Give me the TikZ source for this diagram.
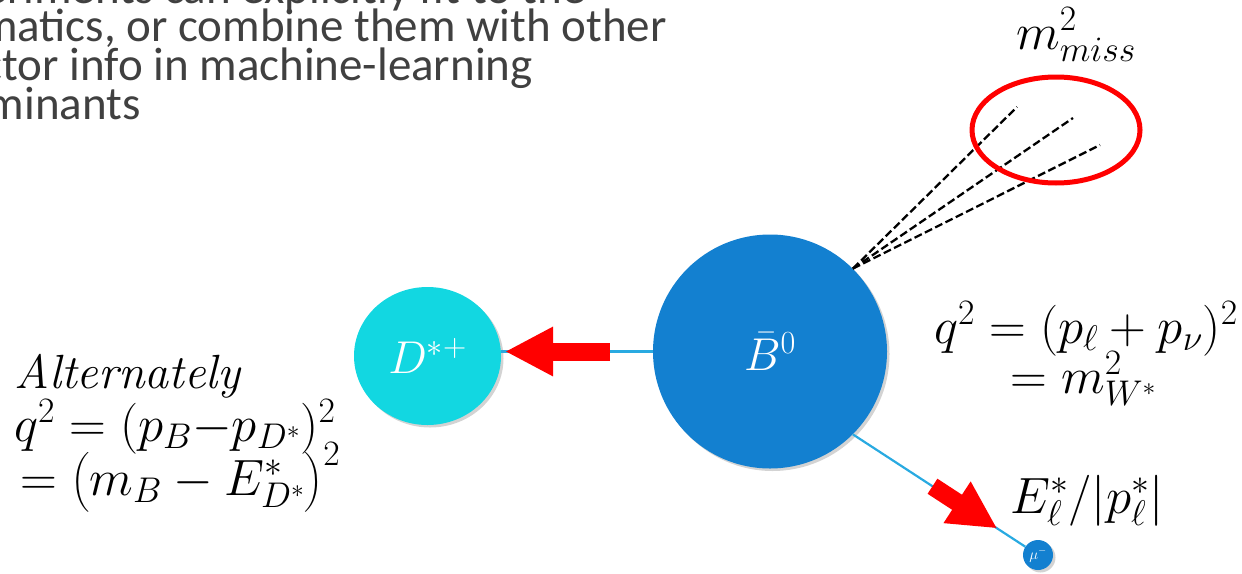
\documentclass[tikz,border=0pt]{standalone}
\usepackage{fix-cm}
\usepackage{amsmath}
\usepackage{fontspec}
\newfontfamily\calibri{Carlito}
\usetikzlibrary{arrows.meta,shadows,shapes.geometric,calc}
\definecolor{bblue}{RGB}{19,128,208}
\definecolor{dcyan}{RGB}{18,215,225}
\definecolor{lineblue}{RGB}{41,170,225}
\definecolor{txtgray}{RGB}{64,64,64}
\tikzset{
  particle/.style={circle, inner sep=0pt, text=white,
    drop shadow={shadow xshift=2.5pt, shadow yshift=-2.5pt, opacity=0.35}},
  conn/.style={draw=lineblue, line width=2.2pt},
  fatarrow/.style={draw=red, line width=18pt, -{Triangle[length=48pt,width=46pt]}},
  missing/.style={draw=black, line width=2.3pt, dash pattern=on 8pt off 3.5pt},
  bigmath/.style={font=\fontsize{51}{58}\selectfont, inner sep=0pt, text=black},
  slidetext/.style={font=\calibri\fontsize{47}{39}\selectfont, text=txtgray, inner sep=0pt, anchor=base east},
}
\begin{document}
\begin{tikzpicture}[x=1pt,y=-1pt]
\useasboundingbox (0,0) rectangle (1242,573);
\clip (0,0) rectangle (1242,573);

% slide text (cut off at the left / top)
\node[slidetext] (t1) at (586,3) {Experiments can explicitly fit to the};
\node[slidetext] (t2) at (667,41) {kinematics, or combine them with other};
\node[slidetext] (t3) at (533,80) {detector info in machine-learning};
\node[slidetext] (t4) at (141,119) {discriminants};

% particles
\node[particle, fill=bblue, minimum size=234pt, font=\fontsize{46}{52}\selectfont] (B) at (770,351.5) {$\bar{B}^0$};
\node[particle, ellipse, fill=dcyan, minimum width=147pt, minimum height=138pt, font=\fontsize{46}{52}\selectfont] (D) at (427.5,356) {$D^{*+}$};
\node[particle, fill=bblue, minimum size=30pt, font=\fontsize{15}{16}\selectfont] (mu) at (1038,555) {$\mu^-$};

% connectors
\draw[conn] (B.west) -- (B.west -| D.east);
\draw[conn] (B.-45) -- (mu);

% missing momentum
\coordinate (n1) at (1017,107);
\coordinate (n2) at (1073,118);
\coordinate (n3) at (1100,145);
\draw[missing] (B.45) -- (n1);
\draw[missing] (B.45) -- (n2);
\draw[missing] (B.45) -- (n3);
\node[draw=red, line width=5pt, ellipse, minimum width=168pt, minimum height=106pt, inner sep=0pt] (miss) at (1056,130) {};

% red arrows
\coordinate (a1s) at (610,351.5);
\coordinate (a1e) at (505,351.5);
\draw[fatarrow] (a1s) -- (a1e);
\draw[fatarrow] ($(B.-45)!0.43!(mu)$) -- ($(B.-45)!0.78!(mu)$);

% labels
\node[bigmath, anchor=base west] (mmiss) at (1016,49) {$m^2_{miss}$};
\node[bigmath, anchor=base east] (q1) at (1238,343) {$q^2 = (p_\ell + p_\nu)^2$};
\node[bigmath, anchor=base west] (q2) at (1010,393) {$= m^2_{W^*}$};
\node[bigmath, anchor=base west] (El) at (1010,513) {$E^*_\ell/|p^*_\ell|$};
\node[bigmath, font=\fontsize{48}{56}\selectfont, anchor=base west] (alt) at (14,388) {$\mathit{Alternately}$};
\node[bigmath, anchor=base west] (qa) at (14,441) {$q^2 = (p_B{-}p_{D^*})^2$};
\node[bigmath, anchor=base west] (qb) at (20,495) {$= \bigl(m_B - E^*_{D^*}\bigr)^2$};
\end{tikzpicture}
\end{document}
